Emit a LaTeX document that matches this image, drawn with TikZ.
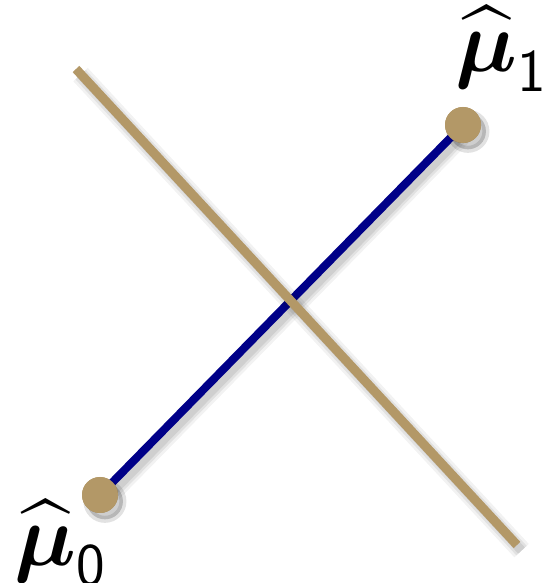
\documentclass[tikz,border=0pt]{standalone}
\usepackage{amsmath}
\usepackage{xcolor}
\usepackage{tikz}
\usetikzlibrary{positioning}
\definecolor{meangold}{HTML}{B39867}
\definecolor{meanblue}{HTML}{000088}

\tikzset{
  shade line/.style={preaction={draw=black, opacity=0.05, line width=#1+3pt, transform canvas={shift={(1.3pt,-1.6pt)}}},
                     preaction={draw=black, opacity=0.07, line width=#1+1.4pt, transform canvas={shift={(1.3pt,-1.6pt)}}},
                     preaction={draw=black, opacity=0.08, line width=#1, transform canvas={shift={(1.3pt,-1.6pt)}}}},
  joinline/.style={draw=meanblue, line width=2.3pt, shade line=2.3pt},
  splitline/.style={draw=meangold, line width=2.6pt, shade line=2.6pt},
  meandot/.style={circle, fill=meangold, minimum size=0.36cm, inner sep=0pt,
                  preaction={draw=black, draw opacity=0.06, line width=2pt, fill=black, fill opacity=0.10,
                              transform canvas={shift={(1.4pt,-1.8pt)}}}},
  meanlabel/.style={font=\fontsize{27}{32}\selectfont, inner sep=0pt}
}

\begin{document}
\begin{tikzpicture}
  \useasboundingbox (0,0) rectangle (5.57,5.83);
  % the two means and the boundary between them
  \node[meandot] (m0) at (1.00,0.88) {};
  \node[meandot] (m1) at (4.63,4.58) {};
  \coordinate (b1) at (0.76,5.14);
  \coordinate (b2) at (5.17,0.38);

  \draw[joinline] (m0.center) -- (m1.center);
  \draw[splitline] (b1) -- (b2);
  \node[meandot] at (m0) {};
  \node[meandot] at (m1) {};

  \node[meanlabel] (l1) at (5.02,5.34) {$\widehat{\boldsymbol{\mu}}_{\mathsf{1}}$};
  \node[meanlabel] (l0) at (0.61,0.40) {$\widehat{\boldsymbol{\mu}}_{\mathsf{0}}$};
\end{tikzpicture}
\end{document}
